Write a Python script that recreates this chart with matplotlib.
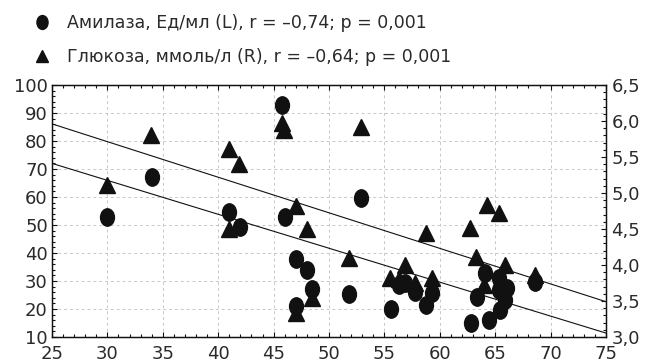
"""Amylase and glucose vs age, scatter with fit lines on twin y axes."""

import matplotlib

matplotlib.use("Agg")
import matplotlib.pyplot as plt  # noqa: E402
from matplotlib.path import Path  # noqa: E402
from matplotlib.transforms import Affine2D  # noqa: E402
from matplotlib.ticker import MultipleLocator, FuncFormatter  # noqa: E402

# amylase, U/ml (left axis)
amy_x = [30, 34, 41, 42, 45.8, 46, 47, 48, 48.5, 47, 51.8, 52.9, 55.6, 56.3,
         56.9, 57.8, 58.75, 59.3, 62.8, 63.4, 64.1, 64.4, 65.3, 65.3, 66.1,
         65.9, 65.4, 68.6]
amy_y = [53, 67, 54.6, 49.3, 93, 53, 38, 34, 27, 21, 25.4, 59.6, 20, 28.6,
         29.3, 26.1, 21.4, 25.7, 15, 24.3, 32.9, 16.1, 31, 26.8, 27.5,
         23.2, 19.6, 29.6]

# glucose, mmol/l (right axis)
glu_x = [30, 33.9, 41.0, 41.9, 41.0, 45.8, 45.9, 47.0, 48.0, 48.5, 47.0,
         51.8, 52.9, 55.5, 56.9, 56.3, 57.8, 58.75, 59.3, 62.7, 63.3, 64.3,
         65.3, 64.0, 65.9, 68.6]
glu_y = [5.11, 5.81, 5.61, 5.40, 4.50, 5.97, 5.88, 4.82, 4.50, 3.54, 3.33,
         4.10, 5.92, 3.82, 4.00, 3.80, 3.75, 4.44, 3.82, 4.51, 4.11, 4.83,
         4.72, 3.72, 4.00, 3.86]

# regression lines, values at the ends of the x range
fit_x = [25, 75]
amy_fit = [72, 11.4]
glu_fit = [5.96, 3.49]

amy_label = "Амилаза, Ед/мл (L), r = –0,74; p = 0,001"
glu_label = "Глюкоза, ммоль/л (R), r = –0,64; p = 0,001"

plt.rcParams["font.family"] = ["DejaVu Sans"]
INK = "#111111"
TXT = "#2a2a2a"

# circles in the source are a bit taller than wide
oval = Path.unit_circle().transformed(Affine2D().scale(0.8, 1.0))

fig = plt.figure(figsize=(6.54, 3.64), dpi=100)
ax = fig.add_axes([0.0795, 0.0742, 0.8471, 0.6923])
ax2 = ax.twinx()

ax.plot(fit_x, amy_fit, color=INK, lw=0.8, zorder=2)
ax2.plot(fit_x, glu_fit, color=INK, lw=0.8, zorder=2)
ax2.plot(glu_x, glu_y, ls="none", marker="^", ms=11, color=INK,
         mec=INK, zorder=3)
ax.plot(amy_x, amy_y, ls="none", marker=oval, ms=12.5, color=INK,
        mec=INK, zorder=3)

ax.set_xlim(25, 75)
ax.set_ylim(10, 100)
ax2.set_ylim(3.0, 6.5)
ax.xaxis.set_major_locator(MultipleLocator(5))
ax.xaxis.set_minor_locator(MultipleLocator(1))
ax.yaxis.set_major_locator(MultipleLocator(10))
ax.yaxis.set_minor_locator(MultipleLocator(2))
ax2.yaxis.set_major_locator(MultipleLocator(0.5))
ax2.yaxis.set_minor_locator(MultipleLocator(0.1))
ax2.yaxis.set_major_formatter(
    FuncFormatter(lambda v, _: f"{v:.1f}".replace(".", ",")))

ax.grid(True, color="#c8c8c8", ls=(0, (3, 3)), lw=0.7)
ax.set_axisbelow(True)

for a in (ax, ax2):
    a.tick_params(which="both", direction="in", colors=INK,
                  labelcolor=TXT, labelsize=13, width=0.8)
    a.tick_params(which="major", length=3.5)
    a.tick_params(which="minor", length=2.5)
    for s in a.spines.values():
        s.set_linewidth(0.9)
        s.set_color(INK)
ax.tick_params(axis="x", which="both", top=True, pad=5.5)
ax.tick_params(axis="y", which="both", right=False, pad=3)
ax2.tick_params(axis="y", which="both", pad=4)

handles = [
    plt.Line2D([], [], ls="none", marker=oval, ms=10, color=INK),
    plt.Line2D([], [], ls="none", marker="^", ms=8.5, color=INK),
]
fig.legend(handles, [amy_label, glu_label], loc="upper left",
           bbox_to_anchor=(0.027, 1.005), frameon=False, fontsize=12.5,
           labelcolor=TXT, handlelength=1.0, handletextpad=0.95,
           labelspacing=0.95)

fig.savefig("out.png", dpi=100)
